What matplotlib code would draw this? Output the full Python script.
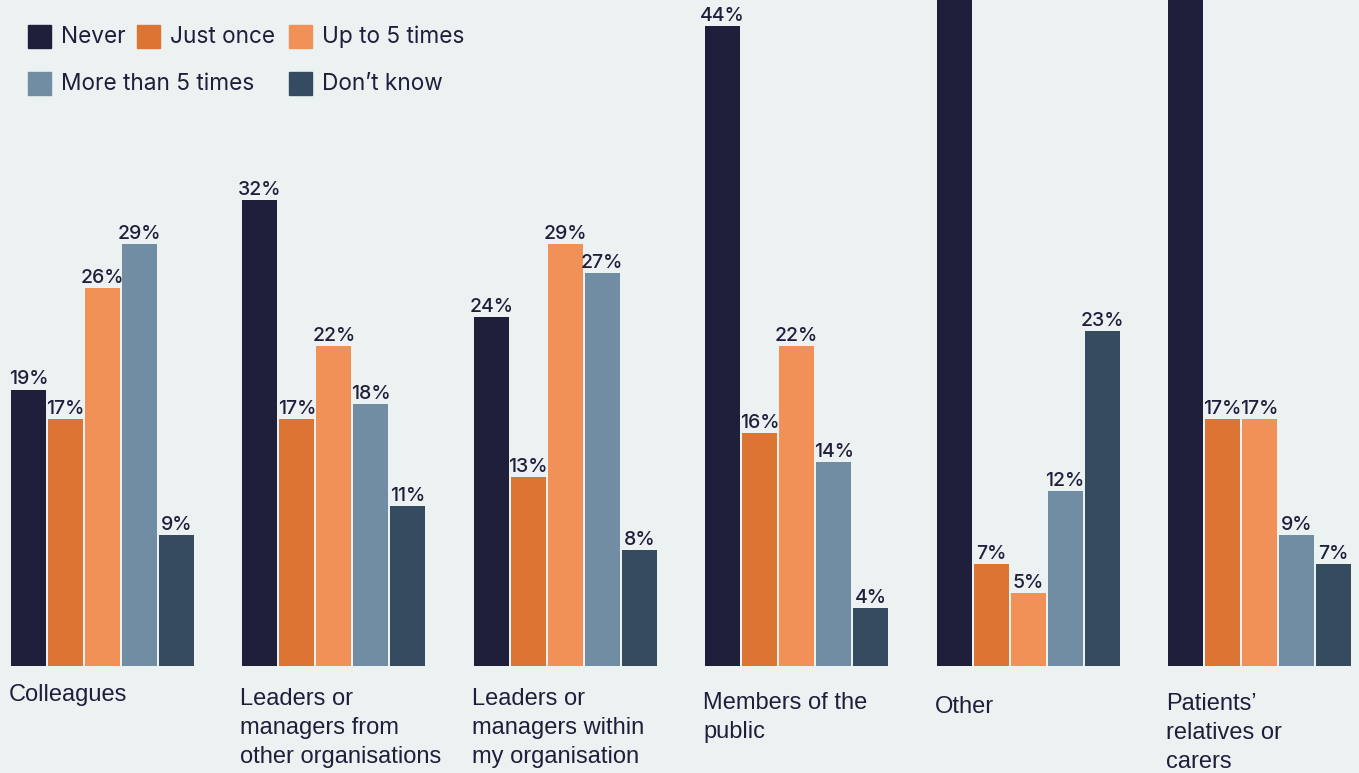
# Grouped bar chart: how often respondents experienced it, by source
import matplotlib
matplotlib.use('Agg')
import matplotlib.pyplot as plt
from matplotlib.patches import Rectangle
from matplotlib.transforms import blended_transform_factory
import numpy as np

categories = ['Colleagues',
              'Leaders or\nmanagers from\nother organisations',
              'Leaders or\nmanagers within\nmy organisation',
              'Members of the\npublic',
              'Other',
              'Patients\u2019\nrelatives or\ncarers']
series = ['Never', 'Just once', 'Up to 5 times', 'More than 5 times', 'Don\u2019t know']

# values in %, one list per series (Never for Other / Patients runs off the top)
never = [19, 32, 24, 44, 53, 50]
just_once = [17, 17, 13, 16, 7, 17]
up_to_5 = [26, 22, 29, 22, 5, 17]
more_than_5 = [29, 18, 27, 14, 12, 9]
dont_know = [9, 11, 8, 4, 23, 7]

values = [never, just_once, up_to_5, more_than_5, dont_know]
colors = ['#1E1F3B', '#DC7434', '#F29157', '#718DA3', '#354B5F']
bg = '#ECF2F2'
text_color = '#1E1F3B'

W, H = 1359, 773
fig = plt.figure(figsize=(W / 100, H / 100), dpi=100, facecolor=bg)
ax = fig.add_axes([0, (H - 666) / H, 1, 666 / H])
ax.set_facecolor(bg)

step = 37 / 231.4
width = 35 / 231.4
x = np.arange(len(categories))
y_top = 666 / 14.55

for j, (name, vals) in enumerate(zip(series, values)):
    pos = x + (j - 2) * step
    ax.bar(pos, vals, width=width, color=colors[j], label=name)
    for px, v in zip(pos, vals):
        # bars that run off the top have no visible label
        if v > y_top:
            continue
        ax.text(px, v + 0.35, f'{v}%', ha='center', va='baseline',
                fontsize=14, color=text_color, family='Inter', fontweight='medium')

ax.set_xlim(-102.5 / 231.4, (W - 102.5) / 231.4)
ax.set_ylim(0, y_top)
ax.axis('off')

# category labels under each group, left aligned with the first bar
trans = blended_transform_factory(ax.transData, fig.transFigure)
label_tops = [684, 688, 688, 692, 696, 693]
for i, cat in enumerate(categories):
    left = x[i] - 2 * step - width / 2
    ax.text(left - 2 / 231.4, 1 - label_tops[i] / H, cat, transform=trans,
            ha='left', va='top', fontsize=17, color=text_color,
            family='Liberation Sans', linespacing=1.4, clip_on=False)

# legend drawn by hand (flow layout)
legend_pos = [(28, 25), (137, 25), (289, 25), (28, 72), (289, 72)]
for (lx, ly), name, c in zip(legend_pos, series, colors):
    fig.patches.append(Rectangle((lx / W, 1 - (ly + 23) / H), 23 / W, 23 / H,
                                 transform=fig.transFigure, color=c))
    fig.text((lx + 33) / W, 1 - (ly + 12) / H, name, ha='left', va='center',
             fontsize=16.3, color=text_color, family='Inter')

plt.savefig('out.png', dpi=100, facecolor=bg)
plt.close()
